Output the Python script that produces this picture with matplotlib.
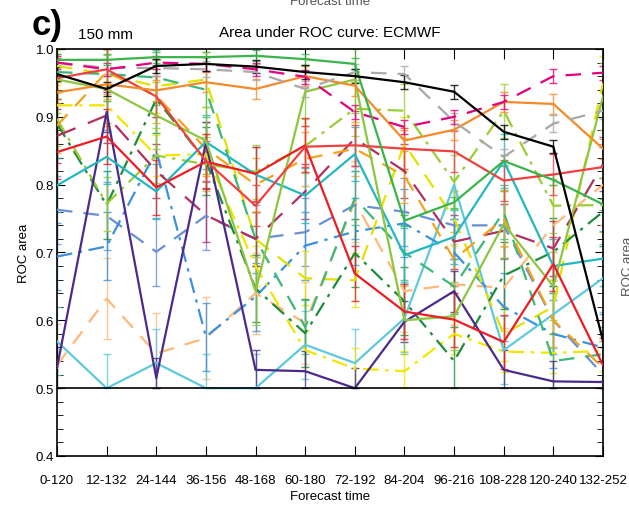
import numpy as np
import matplotlib
matplotlib.use("Agg")
import matplotlib.pyplot as plt
from matplotlib.ticker import MultipleLocator

plt.rcParams['font.family'] = ['Liberation Sans', 'DejaVu Sans']

categories = ["0-120", "12-132", "24-144", "36-156", "48-168", "60-180",
              "72-192", "84-204", "96-216", "108-228", "120-240", "132-252"]

black_solid   = [0.963, 0.941, 0.975, 0.978, 0.974, 0.966, 0.960, 0.951, 0.937, 0.878, 0.856, 0.570]
green_solid   = [0.984, 0.984, 0.988, 0.988, 0.990, 0.985, 0.978, 0.747, 0.774, 0.835, 0.807, 0.771]
orange_solid  = [0.936, 0.948, 0.939, 0.951, 0.941, 0.960, 0.946, 0.865, 0.881, 0.922, 0.919, 0.853]
red_a_solid   = [0.957, 0.970, 0.930, 0.835, 0.769, 0.856, 0.858, 0.853, 0.849, 0.806, 0.815, 0.826]
red_b_solid   = [0.848, 0.871, 0.796, 0.834, 0.816, 0.858, 0.669, 0.613, 0.601, 0.568, 0.683, 0.534]
teal_solid    = [0.799, 0.841, 0.790, 0.863, 0.815, 0.784, 0.845, 0.696, 0.723, 0.835, 0.680, 0.691]
sky_solid     = [0.569, 0.500, 0.537, 0.500, 0.500, 0.564, 0.537, 0.603, 0.800, 0.556, 0.609, 0.662]
purple_solid  = [0.530, 0.907, 0.515, 0.862, 0.527, 0.525, 0.500, 0.598, 0.643, 0.527, 0.510, 0.509]
lime_solid    = [0.955, 0.941, 0.902, 0.865, 0.643, 0.937, 0.955, 0.600, 0.606, 0.742, 0.650, 0.930]
magenta_dash  = [0.980, 0.970, 0.980, 0.978, 0.970, 0.959, 0.907, 0.885, 0.900, 0.922, 0.960, 0.965]
gray_dash     = [0.980, 0.972, 0.972, 0.970, 0.966, 0.941, 0.966, 0.963, 0.893, 0.841, 0.890, 0.909]
peach_dash    = [0.534, 0.632, 0.551, 0.574, 0.640, 0.596, 0.775, 0.643, 0.653, 0.648, 0.740, 0.800]
orange_dash   = [0.887, 0.966, 0.931, 0.853, 0.800, 0.838, 0.853, 0.813, 0.690, 0.750, 0.600, 0.530]
yellow_dashdot= [0.917, 0.917, 0.843, 0.845, 0.680, 0.556, 0.529, 0.525, 0.580, 0.554, 0.552, 0.555]
yellow_dash   = [0.975, 0.963, 0.945, 0.955, 0.720, 0.662, 0.659, 0.860, 0.750, 0.580, 0.620, 0.950]
lime_dashdot  = [0.897, 0.772, 0.843, 0.830, 0.819, 0.857, 0.912, 0.909, 0.804, 0.909, 0.769, 0.770]
dkgreen_dashdot=[0.890, 0.770, 0.926, 0.835, 0.647, 0.581, 0.699, 0.628, 0.540, 0.666, 0.701, 0.760]
seagreen_dash = [0.966, 0.963, 0.958, 0.940, 0.720, 0.590, 0.780, 0.700, 0.650, 0.760, 0.540, 0.550]
blue_dashdot  = [0.694, 0.709, 0.850, 0.576, 0.635, 0.710, 0.731, 0.743, 0.700, 0.620, 0.580, 0.560]
steel_dash    = [0.763, 0.754, 0.701, 0.754, 0.720, 0.730, 0.770, 0.760, 0.740, 0.740, 0.600, 0.520]
maroon_dash   = [0.872, 0.902, 0.820, 0.755, 0.720, 0.790, 0.868, 0.820, 0.716, 0.732, 0.706, 0.830]

# error bar half widths per series
errors = {
    "black": 0.010, "green": 0.008, "orange": 0.015, "red_a": 0.03, "red_b": 0.04,
    "teal": 0.04, "sky": 0.05, "purple": 0.03, "lime": 0.05, "magenta": 0.01,
    "gray": 0.012, "peach": 0.06, "orange_d": 0.04, "yellow_dd": 0.03, "yellow_d": 0.04,
    "lime_dd": 0.04, "dkgreen_dd": 0.05, "seagreen_d": 0.04, "blue_dd": 0.05,
    "steel_d": 0.05, "maroon_d": 0.04,
}

series = [
    ("peach", peach_dash, "#ffb877", (0, (7, 5))),
    ("sky", sky_solid, "#5ec8dc", "-"),
    ("steel_d", steel_dash, "#6a8fd4", (0, (7, 5))),
    ("blue_dd", blue_dashdot, "#3b92dc", (0, (7, 3, 1.5, 3))),
    ("yellow_dd", yellow_dashdot, "#f2e600", (0, (7, 3, 1.5, 3))),
    ("yellow_d", yellow_dash, "#e4e000", (0, (7, 5))),
    ("dkgreen_dd", dkgreen_dashdot, "#1e8c3c", (0, (7, 3, 1.5, 3))),
    ("seagreen_d", seagreen_dash, "#3cb878", (0, (7, 5))),
    ("lime_dd", lime_dashdot, "#9acd32", (0, (7, 3, 1.5, 3))),
    ("maroon_d", maroon_dash, "#b0305e", (0, (9, 6))),
    ("orange_d", orange_dash, "#f7a21b", (0, (7, 5))),
    ("purple", purple_solid, "#4b2a8c", "-"),
    ("teal", teal_solid, "#22b8c0", "-"),
    ("lime", lime_solid, "#8cc63f", "-"),
    ("red_b", red_b_solid, "#ee1c25", "-"),
    ("red_a", red_a_solid, "#f04040", "-"),
    ("orange", orange_solid, "#f58a2a", "-"),
    ("gray", gray_dash, "#a8a8a8", (0, (7, 5))),
    ("magenta", magenta_dash, "#e6007e", (0, (7, 5))),
    ("green", green_solid, "#3ab54a", "-"),
    ("black", black_solid, "#000000", "-"),
]

fig = plt.figure(figsize=(6.29, 5.06), dpi=100)
ax = fig.add_axes([57/629, 1 - 457/506, (603 - 57)/629, (457 - 50)/506])

x = np.arange(len(categories))
for name, vals, col, ls in series:
    vals = np.array(vals)
    e = errors[name]
    lo = np.clip(vals - e, 0.5, 1.0)
    hi = np.clip(vals + e, 0.5, 1.0)
    ax.errorbar(x, vals, yerr=[vals - lo, hi - vals], fmt='none', ecolor=col,
                elinewidth=1.0, capsize=3, capthick=1.0, alpha=0.8, zorder=2)
    ax.plot(x, vals, color=col, linestyle=ls, linewidth=1.6, zorder=3)

ax.axhline(0.5, color='black', linewidth=1.2, zorder=4)
ax.set_xlim(0, len(categories) - 1)
ax.set_ylim(0.4, 1.0)
ax.set_xticks(x)
ax.set_xticklabels(categories, fontsize=9.5)
ax.yaxis.set_major_locator(MultipleLocator(0.1))
ax.yaxis.set_minor_locator(MultipleLocator(0.02))
ax.set_yticklabels([f"{v:.1f}" for v in ax.get_yticks()], fontsize=9.5)
ax.tick_params(axis='both', which='both', direction='in', top=True, right=True)
ax.tick_params(axis='x', which='major', length=7, pad=13)
ax.tick_params(axis='y', which='major', length=6, pad=2)
ax.tick_params(axis='y', which='minor', length=4)
for s in ax.spines.values():
    s.set_linewidth(1.2)

ax.set_xlabel("Forecast time", fontsize=9.5, labelpad=3)
ax.set_ylabel("ROC area", fontsize=9.5, labelpad=4)

fig.text(330/629, 1 - 33/506, "Area under ROC curve: ECMWF", fontsize=11,
         ha='center', va='center')
fig.text(105/629, 1 - 35/506, "150 mm", fontsize=11, ha='center', va='center')
fig.text(32/629, 1 - 25/506, "c)", fontsize=25, fontweight='bold',
         ha='left', va='center')
fig.text(330/629, 1 - 2/506, "Forecast time", fontsize=9.5, ha='center', va='center',
         color='#555555')
fig.text(622/629, 240/506, "ROC area", fontsize=9.5, rotation=90, ha='left',
         va='center', color='#555555')

fig.savefig("out.png", dpi=100)
